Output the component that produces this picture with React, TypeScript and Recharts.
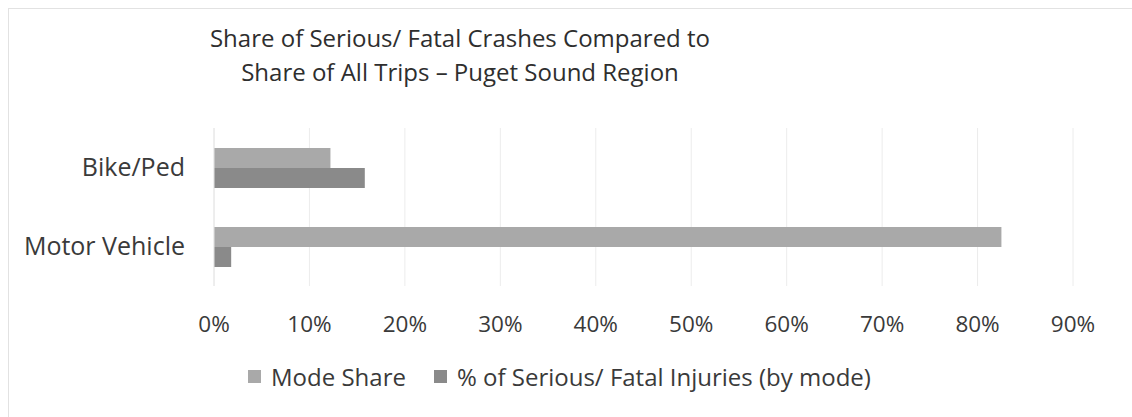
import React from "react";
import { BarChart, Bar, XAxis, YAxis, CartesianGrid } from "recharts";

const categories = ["Bike/Ped", "Motor Vehicle"];
const modeShare = [0.122, 0.825];
const seriousFatal = [0.158, 0.018];
const ticks = [0, 0.1, 0.2, 0.3, 0.4, 0.5, 0.6, 0.7, 0.8, 0.9];

const data = categories.map((name, i) => ({
  name,
  modeShare: modeShare[i],
  seriousFatal: seriousFatal[i],
}));

const FONT = "'Open Sans', sans-serif";
const TEXT = "#3a3a3a";
const LIGHT = "#a9a9a9";
const DARK = "#8a8a8a";

const legendItems = [
  { label: "Mode Share", color: LIGHT },
  { label: "% of Serious/ Fatal Injuries (by mode)", color: DARK },
];

const App = () => {
  return (
    <div style={{ position: "fixed", left: 0, top: 0, width: 1132, height: 417, background: "#fff" }}>
      <div
        style={{
          position: "absolute",
          left: 8,
          top: 8,
          right: 0,
          bottom: 0,
          borderLeft: "1px solid #e2e2e2",
          borderTop: "1px solid #e2e2e2",
        }}
      />
      <div
        style={{
          position: "absolute",
          left: 110,
          width: 700,
          top: 21,
          textAlign: "center",
          fontFamily: FONT,
          fontSize: 24,
          lineHeight: "34px",
          color: "#2e2e2e",
        }}
      >
        Share of Serious/ Fatal Crashes Compared to
        <br />
        Share of All Trips – Puget Sound Region
      </div>
      <div style={{ position: "absolute", left: 0, top: 0 }}>
        <BarChart
          width={1132}
          height={417}
          data={data}
          layout="vertical"
          margin={{ top: 128, right: 59, bottom: 101, left: 0 }}
          barGap={0}
          barSize={20}
        >
          <CartesianGrid horizontal={false} stroke="#ececec" />
          <XAxis
            type="number"
            domain={[0, 0.9]}
            ticks={ticks}
            tickFormatter={(v: number) => `${Math.round(v * 100)}%`}
            axisLine={false}
            tickLine={false}
            tickMargin={24}
            height={30}
            tick={{ fill: TEXT, fontFamily: FONT, fontSize: 22.5 }}
            interval={0}
          />
          <YAxis
            type="category"
            dataKey="name"
            width={214}
            axisLine={{ stroke: "#e6e6e6" }}
            tickLine={false}
            tickMargin={23}
            tick={{ fill: TEXT, fontFamily: FONT, fontSize: 25 }}
          />
          <Bar dataKey="modeShare" name="Mode Share" fill={LIGHT} isAnimationActive={false} />
          <Bar
            dataKey="seriousFatal"
            name="% of Serious/ Fatal Injuries (by mode)"
            fill={DARK}
            isAnimationActive={false}
          />
        </BarChart>
      </div>
      <div
        style={{
          position: "absolute",
          left: 248,
          top: 360,
          display: "flex",
          alignItems: "center",
          fontFamily: FONT,
          fontSize: 24,
          color: TEXT,
        }}
      >
        {legendItems.map((item, i) => (
          <div key={item.label} style={{ display: "flex", alignItems: "center", marginLeft: i === 0 ? 0 : 28 }}>
            <span style={{ width: 13, height: 13, background: item.color, marginRight: 10, display: "inline-block" }} />
            <span>{item.label}</span>
          </div>
        ))}
      </div>
    </div>
  );
};

export default App;
